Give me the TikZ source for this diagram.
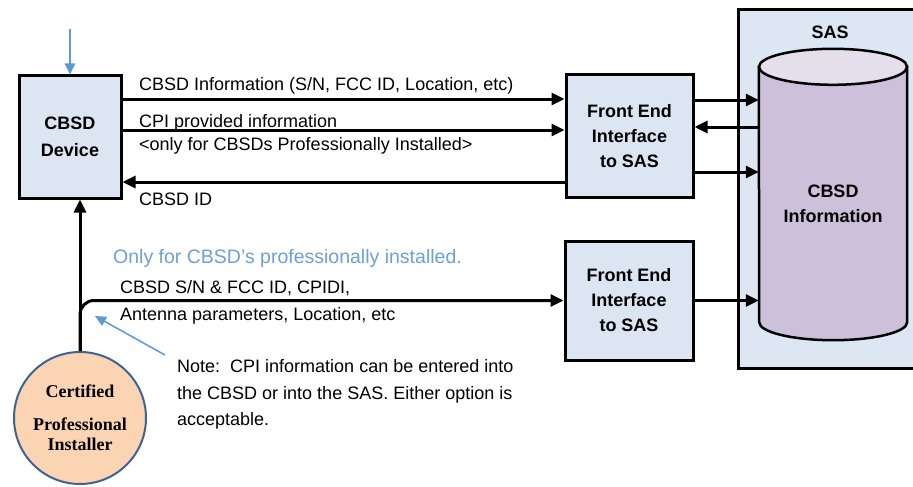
\documentclass[tikz,border=0pt]{standalone}
\usepackage{fontspec}
\setmainfont{Liberation Sans}
\newfontfamily\installerfont{Liberation Serif}
\usetikzlibrary{arrows.meta}

\definecolor{boxblue}{HTML}{DCE6F2}
\definecolor{sasblue}{HTML}{DDE7F3}
\definecolor{cylbody}{HTML}{CCC0DA}
\definecolor{cyltop}{HTML}{E5DFEC}
\definecolor{peach}{HTML}{FBD4B4}
\definecolor{ringblue}{HTML}{3E6590}
\definecolor{hintblue}{HTML}{5B9BD5}
\definecolor{hinttext}{HTML}{6F9FDA}

\begin{document}
\begin{tikzpicture}[x=1pt,y=-1pt,
  box/.style={draw=black, line width=3pt, fill=boxblue, inner sep=0pt,
    align=center, font=\fontsize{18}{25}\selectfont\bfseries},
  conn/.style={line width=3pt, -{Triangle[length=13pt,width=12pt]}},
  hint/.style={draw=hintblue, -{Triangle[length=11pt,width=10pt]}},
  lbl/.style={anchor=base west, inner sep=0pt, font=\fontsize{18}{22}\selectfont},
  title/.style={inner sep=0pt, align=center, font=\fontsize{18}{24.5}\selectfont\bfseries}]

\useasboundingbox (0,0) rectangle (913,487);
\clip (0,0) rectangle (913,487);
\fill[white] (0,0) rectangle (913,487);

% SAS container (runs off the right edge)
\node[draw=black, line width=3pt, fill=sasblue, anchor=north west,
  minimum width=220pt, minimum height=359pt, inner sep=0pt] (sas) at (737,8) {};
\node[title] (sastitle) at (830,32) {SAS};

% CBSD information store (cylinder)
\node[inner sep=0pt, minimum width=148pt, minimum height=255pt] (cyl) at (833,194.5) {};
\filldraw[fill=cylbody, draw=black, line width=2.5pt]
  (cyl.north east) -- (cyl.south east)
  arc[start angle=0, end angle=-180, x radius=74pt, y radius=18pt]
  -- (cyl.north west) -- cycle;
\filldraw[fill=cyltop, draw=black, line width=2.5pt]
  (cyl.north) ellipse[x radius=74pt, y radius=18pt];
\node[title] (cylt) at (833,204) {CBSD\\Information};

% Blocks
\node[box, minimum width=102pt, minimum height=122pt,
  font=\fontsize{18}{27}\selectfont\bfseries] (dev) at (70,137) {CBSD\\Device};
\node[box, minimum width=127pt, minimum height=122pt] (fe1) at (629.5,136) {Front End\\Interface\\to SAS};
\node[box, minimum width=128pt, minimum height=119pt] (fe2) at (629,300.5) {Front End\\Interface\\to SAS};
\node[circle, draw=ringblue, line width=2pt, fill=peach, minimum size=132pt,
  inner sep=0pt, align=center,
  font=\installerfont\fontsize{18}{20}\selectfont\bfseries] (cpi) at (80,418)
  {Certified\\[13pt]Professional\\Installer};

% Message levels
\coordinate (r1) at (0,99);
\coordinate (r2) at (0,130);
\coordinate (r3) at (0,182);
\coordinate (s1) at (0,100);
\coordinate (s2) at (0,127);
\coordinate (s3) at (0,172);

% CBSD <-> front end
\draw[conn] (dev.east |- r1) -- (fe1.west |- r1);
\draw[conn] (dev.east |- r2) -- (fe1.west |- r2);
\draw[conn] (fe1.west |- r3) -- (dev.east |- r3);

% Front end <-> SAS store
\draw[conn] (fe1.east |- s1) -- (cyl.west |- s1);
\draw[conn] (cyl.west |- s2) -- (fe1.east |- s2);
\draw[conn] (fe1.east |- s3) -- (cyl.west |- s3);
\draw[conn] (fe2.east) -- (fe2.east -| cyl.west);

% Installer paths
\draw[conn] (cpi.north) -- (cpi.north |- dev.south);
\draw[conn, rounded corners=14pt] (cpi.north) |- (fe2.west);

% Blue pointers
\coordinate (devin) at (70,29);
\draw[hint, line width=2.5pt] (devin) -- (dev.north);
\coordinate (notetail) at (165,355);
\coordinate (notehead) at (95,316);
\draw[hint, line width=1.5pt] (notetail) -- (notehead);

% Labels
\node[lbl] (m1) at (139,90) {CBSD Information (S/N, FCC ID, Location, etc)};
\node[lbl] (m2) at (139,127) {CPI provided information};
\node[lbl] (m2b) at (139,150) {<only for CBSDs Professionally Installed>};
\node[lbl] (m3) at (139,205) {CBSD ID};
\node[lbl, text=hinttext, font=\fontsize{19.5}{22}\selectfont] (only) at (113,263)
  {Only for CBSD’s professionally installed.};
\node[lbl] (p1) at (120,293) {CBSD S/N \& FCC ID, CPIDI,};
\node[lbl] (p2) at (120,320) {Antenna parameters, Location, etc};
\node[lbl] (n1) at (177,372) {Note:\ \ CPI information can be entered into};
\node[lbl] (n2) at (177,399) {the CBSD or into the SAS. Either option is};
\node[lbl] (n3) at (177,425) {acceptable.};

\end{tikzpicture}
\end{document}
